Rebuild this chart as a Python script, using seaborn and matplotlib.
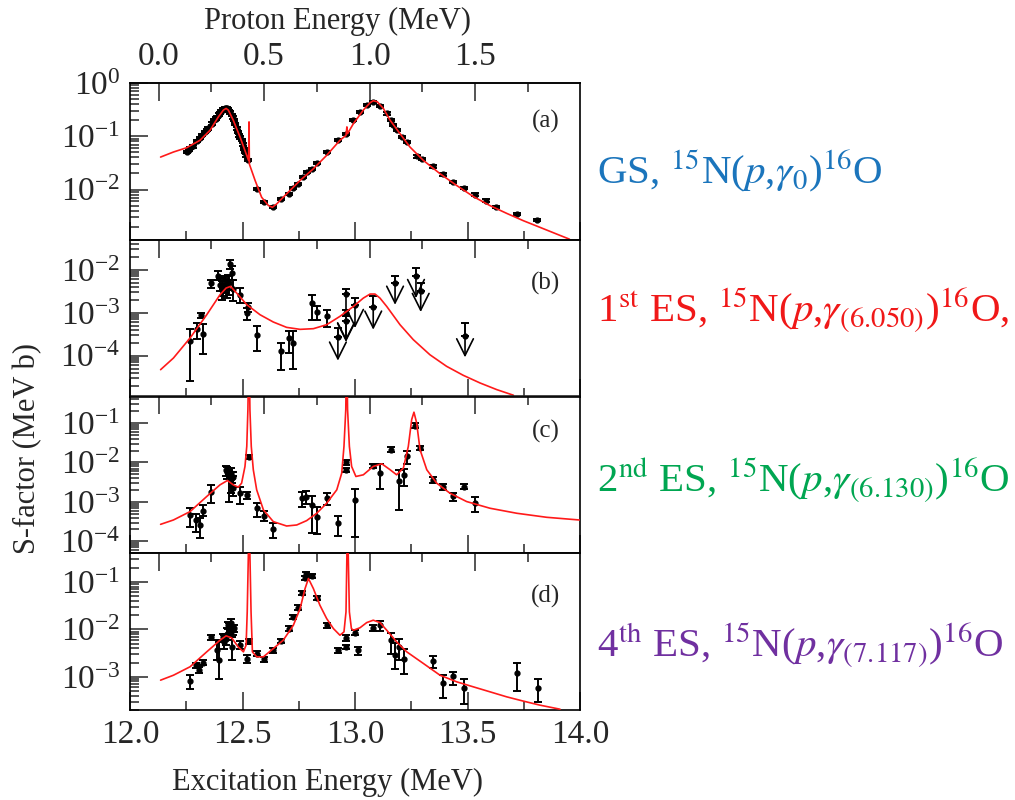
import numpy as np
import pandas as pd
import matplotlib
matplotlib.use('Agg')
import matplotlib.pyplot as plt
from matplotlib.ticker import MultipleLocator, LogLocator, NullFormatter
import seaborn as sns

sns.set_theme(style='ticks')
plt.rcParams['font.family'] = ['Liberation Serif', 'DejaVu Serif']
plt.rcParams['mathtext.fontset'] = 'stix'

# Q value of 15N(p,g)16O, used for the proton energy axis on top
Q_VALUE = 12.127

# ---- panel (a): ground state ----
a_ex = [12.252, 12.260, 12.267, 12.281, 12.296, 12.310, 12.319, 12.333, 12.340, 12.348,
        12.363, 12.373, 12.380, 12.388, 12.395, 12.400, 12.405, 12.412, 12.417, 12.422,
        12.427, 12.433, 12.437, 12.441, 12.446, 12.452, 12.457, 12.462, 12.468, 12.474,
        12.480, 12.486, 12.490, 12.496, 12.500, 12.507, 12.512, 12.516, 12.526, 12.566,
        12.596, 12.634, 12.670, 12.707, 12.726, 12.748, 12.767, 12.785, 12.807, 12.830,
        12.874, 12.926, 12.960, 12.993, 13.022, 13.052, 13.081, 13.111, 13.141, 13.159,
        13.170, 13.185, 13.207, 13.230, 13.274, 13.296, 13.345, 13.393, 13.437, 13.484,
        13.533, 13.581, 13.627, 13.719, 13.810]
a_s = [0.0506, 0.056, 0.061, 0.0647, 0.0817, 0.092, 0.1045, 0.121, 0.130, 0.140,
       0.173, 0.200, 0.215, 0.232, 0.255, 0.275, 0.295, 0.318, 0.330, 0.343,
       0.340, 0.333, 0.320, 0.300, 0.280, 0.249, 0.225, 0.200, 0.170, 0.140,
       0.120, 0.104, 0.095, 0.084, 0.070, 0.058, 0.050, 0.0438, 0.0363, 0.0103,
       0.00577, 0.00464, 0.00667, 0.00828, 0.0107, 0.0128, 0.0171, 0.0212, 0.0245, 0.0314,
       0.0506, 0.084, 0.112, 0.200, 0.288, 0.385, 0.445, 0.368, 0.268, 0.200,
       0.161, 0.130, 0.097, 0.078, 0.042, 0.038, 0.0272, 0.0192, 0.0137, 0.0107,
       0.00805, 0.0062, 0.00464, 0.00348, 0.00272]
a_fit_ex = [12.136, 12.193, 12.252, 12.311, 12.356, 12.393, 12.415, 12.427, 12.437, 12.459,
            12.489, 12.516, 12.527, 12.529, 12.5305, 12.556, 12.585, 12.615, 12.633, 12.652,
            12.696, 12.756, 12.815, 12.874, 12.933, 12.960, 12.964, 12.967, 12.993, 13.037,
            13.067, 13.081, 13.099, 13.126, 13.156, 13.200, 13.244, 13.304, 13.378, 13.452,
            13.526, 13.600, 13.674, 13.748, 13.822, 13.896, 13.953]
a_fit_s = [0.0407, 0.0506, 0.061, 0.084, 0.130, 0.232, 0.31, 0.333, 0.31, 0.200,
           0.097, 0.047, 0.0352, 0.186, 0.030, 0.0148, 0.00716, 0.00501, 0.00464, 0.00537,
           0.00828, 0.0148, 0.0245, 0.0438, 0.084, 0.104, 0.15, 0.112, 0.173, 0.31,
           0.426, 0.465, 0.445, 0.333, 0.200, 0.112, 0.063, 0.0352, 0.0198, 0.0119,
           0.00738, 0.00499, 0.00357, 0.0026, 0.00195, 0.00146, 0.00117]

# ---- panel (b): 1st excited state ----
b_ex = [12.267, 12.296, 12.314, 12.323, 12.361, 12.390, 12.400, 12.407, 12.415, 12.422,
        12.430, 12.437, 12.441, 12.446, 12.452, 12.459, 12.489, 12.519, 12.526, 12.566,
        12.670, 12.707, 12.726, 12.807, 12.830, 12.877, 12.960]
b_s = [2.23e-4, 4.25e-4, 8.67e-4, 3.19e-4, 4.9e-3, 7.25e-3, 4.48e-3, 3.43e-3, 4.09e-3, 4.48e-3,
       3.75e-3, 5.36e-3, 4.9e-3, 1.35e-2, 8.36e-3, 3.61e-3, 2.62e-3, 9.8e-4, 1.33e-3, 3.08e-4,
       1.26e-4, 2.58e-4, 1.97e-4, 1.68e-3, 1.04e-3, 8.22e-4, 9.8e-4]
b_lo = [2.62e-5, 2.48e-4, 7.5e-4, 1.09e-4, 3.75e-3, 5.65e-3, 3.13e-3, 2.0e-3, 2.4e-3, 2.86e-3,
        2.19e-3, 3.43e-3, 2.62e-3, 1.05e-2, 5.85e-3, 1.84e-3, 1.68e-3, 6.87e-4, 1.04e-3, 1.26e-4,
        4.56e-5, 1.15e-4, 4.9e-5, 6.87e-4, 6.87e-4, 4.56e-4, 8.5e-4]
b_hi = [4.17e-4, 5.75e-4, 9.8e-4, 5.45e-4, 5.85e-3, 9.15e-3, 6.4e-3, 5.36e-3, 6.4e-3, 7.0e-3,
        5.85e-3, 7.65e-3, 7.0e-3, 1.71e-2, 1.2e-2, 5.85e-3, 3.75e-3, 1.29e-3, 1.68e-3, 4.8e-4,
        1.97e-4, 3.81e-4, 3.68e-4, 2.62e-3, 1.4e-3, 1.17e-3, 1.13e-3]
# upper limits: point, top of error bar, end of the arrow
b_ul_ex = [12.924, 12.960, 12.960, 13.000, 13.081, 13.178, 13.271, 13.292, 13.489]
b_ul_s = [2.67e-4, 2.72e-3, 6.5e-4, 1.53e-3, 1.33e-3, 4.9e-3, 7.0e-3, 3.25e-3, 2.92e-4]
b_ul_hi = [4.4e-4, 3.55e-3, 8.2e-4, 2.19e-3, 2.4e-3, 7.0e-3, 1.09e-2, 4.9e-3, 5.75e-4]
b_ul_tip = [7.66e-5, 2.15e-4, 2.08e-4, 4.4e-4, 4.03e-4, 1.53e-3, 2.19e-3, 1.04e-3, 9.14e-5]
b_fit_ex = [12.136, 12.193, 12.267, 12.341, 12.400, 12.427, 12.447, 12.474, 12.519, 12.578,
            12.637, 12.696, 12.756, 12.815, 12.874, 12.933, 12.993, 13.037, 13.067, 13.089,
            13.111, 13.141, 13.200, 13.259, 13.333, 13.407, 13.481, 13.556, 13.630, 13.704]
b_fit_s = [4.72e-5, 8.8e-5, 2.58e-4, 8.97e-4, 2.62e-3, 3.75e-3, 4.1e-3, 2.87e-3, 1.54e-3, 8.97e-4,
           6.07e-4, 4.56e-4, 4.1e-4, 4.25e-4, 5.26e-4, 8.22e-4, 1.40e-3, 2.19e-3, 2.72e-3, 2.72e-3,
           2.19e-3, 1.40e-3, 5.26e-4, 2.36e-4, 1.05e-4, 5.65e-5, 3.49e-5, 2.31e-5, 1.62e-5, 1.2e-5]

# ---- panel (c): 2nd excited state ----
c_ex = [12.267, 12.293, 12.311, 12.323, 12.360, 12.427, 12.433, 12.441, 12.447, 12.452,
        12.456, 12.459, 12.489, 12.519, 12.529, 12.566, 12.596, 12.634, 12.766, 12.782,
        12.807, 12.830, 12.877, 12.924, 12.960, 12.960, 13.000, 13.081, 13.111, 13.159,
        13.196, 13.218, 13.233, 13.268, 13.289, 13.345, 13.393, 13.437, 13.484, 13.533]
c_s = [4.67e-4, 3.48e-4, 2.6e-4, 6.03e-4, 1.83e-3, 6.52e-3, 5.57e-3, 4.85e-3, 5.36e-3, 4.0e-3,
       2.22e-3, 4.24e-3, 1.66e-3, 1.51e-3, 1.37e-2, 6.9e-4, 4.41e-4, 2.06e-4, 1.24e-3, 1.32e-3,
       8.4e-4, 4.24e-4, 1.24e-3, 2.99e-4, 1.0e-2, 6.52e-3, 1.12e-3, 8.22e-3, 5.36e-3, 2.1e-2,
       3.29e-3, 4.85e-3, 1.42e-2, 8.55e-2, 2.31e-2, 3.62e-3, 2.45e-3, 1.37e-3, 2.45e-3, 9.6e-4]
c_lo = [2.27e-4, 1.76e-4, 1.24e-4, 4.41e-4, 9.6e-4, 4.58e-3, 3.77e-3, 1.02e-3, 1.66e-3, 2.98e-3,
        1.37e-3, 2.45e-3, 8.9e-4, 1.17e-3, 1.22e-2, 4.24e-4, 3.35e-4, 1.19e-4, 7.6e-4, 8.9e-4,
        1.66e-4, 1.53e-4, 8.4e-4, 1.37e-4, 8.73e-3, 5.79e-3, 1.32e-4, 7.17e-3, 2.1e-3, 1.8e-2,
        6.26e-4, 2.55e-3, 9.24e-3, 7.46e-2, 2.02e-2, 2.98e-3, 2.02e-3, 1.08e-3, 2.1e-3, 5.68e-4]
c_hi = [6.9e-4, 4.95e-4, 3.85e-4, 8.4e-4, 2.7e-3, 8.22e-3, 7.6e-3, 6.52e-3, 7.17e-3, 5.57e-3,
        4.4e-3, 5.57e-3, 2.45e-3, 1.83e-3, 1.57e-2, 9.25e-4, 6.03e-4, 2.87e-4, 1.73e-3, 1.94e-3,
        1.42e-3, 7.31e-4, 1.66e-3, 4.41e-4, 1.12e-2, 7.31e-3, 2.1e-3, 9.24e-3, 9.24e-3, 2.46e-2,
        6.52e-3, 6.78e-3, 1.9e-2, 9.8e-2, 2.65e-2, 4.24e-3, 2.87e-3, 1.66e-3, 2.87e-3, 1.32e-3]
c_fit_ex = [12.136, 12.193, 12.267, 12.341, 12.400, 12.433, 12.459, 12.481, 12.496, 12.511,
            12.519, 12.524, 12.529, 12.533, 12.539, 12.548, 12.563, 12.593, 12.637, 12.696,
            12.741, 12.785, 12.830, 12.874, 12.919, 12.941, 12.951, 12.959, 12.963, 12.967,
            12.975, 12.985, 13.004, 13.037, 13.081, 13.119, 13.156, 13.185, 13.215, 13.237,
            13.252, 13.262, 13.274, 13.289, 13.319, 13.363, 13.422, 13.496, 13.600, 13.719,
            13.852, 13.997]
c_fit_s = [2.7e-4, 3.48e-4, 5.68e-4, 1.37e-3, 2.7e-3, 3.48e-3, 2.7e-3, 2.36e-3, 2.98e-3, 7.9e-3,
           2.55e-2, 0.218, 10.0, 0.218, 2.55e-2, 6.52e-3, 2.02e-3, 6.26e-4, 3.16e-4, 2.45e-4,
           2.6e-4, 3.35e-4, 5.15e-4, 9.25e-4, 2.02e-3, 5.36e-3, 2.55e-2, 0.218, 10.0, 0.218,
           2.55e-2, 7.9e-3, 4.4e-3, 4.85e-3, 7.9e-3, 9.24e-3, 6.52e-3, 4.85e-3, 7.17e-3, 2.55e-2,
           0.122, 0.187, 0.1, 2.1e-2, 6.52e-3, 2.98e-3, 1.66e-3, 1.02e-3, 6.9e-4, 5.15e-4,
           4.07e-4, 3.48e-4]

# ---- panel (d): 4th excited state ----
d_ex = [12.267, 12.293, 12.308, 12.323, 12.360, 12.388, 12.397, 12.412, 12.418, 12.427,
        12.433, 12.437, 12.441, 12.447, 12.452, 12.456, 12.462, 12.489, 12.519, 12.529,
        12.566, 12.596, 12.634, 12.670, 12.707, 12.726, 12.748, 12.766, 12.778, 12.782,
        12.807, 12.830, 12.877, 12.924, 12.960, 12.960, 13.000, 13.013, 13.081, 13.111,
        13.159, 13.178, 13.196, 13.218, 13.345, 13.393, 13.437, 13.484, 13.719, 13.815]
d_s = [8.11e-4, 1.76e-3, 1.38e-3, 2.0e-3, 6.95e-3, 3.64e-3, 2.24e-3, 6.95e-3, 5.45e-3, 6.41e-3,
       8.17e-3, 1.22e-2, 1.08e-2, 1.39e-2, 4.28e-3, 9.6e-3, 1.08e-2, 4.65e-3, 2.43e-3, 5.64e-3,
       3.1e-3, 2.35e-3, 3.64e-3, 5.64e-3, 1.04e-2, 1.83e-2, 2.88e-2, 5.86e-2, 0.121, 0.150,
       0.134, 4.6e-2, 1.22e-2, 3.64e-3, 6.62e-3, 4.28e-3, 8.57e-3, 3.64e-3, 1.08e-2, 1.22e-2,
       5.91e-3, 2.95e-3, 4.28e-3, 2.43e-3, 2.14e-3, 7.24e-4, 1.05e-3, 5.86e-4, 1.23e-3, 5.86e-4]
d_lo = [5.5e-4, 1.55e-3, 1.23e-3, 1.76e-3, 5.91e-3, 2.24e-3, 9.2e-4, 5.91e-3, 3.94e-3, 4.65e-3,
        5.91e-3, 1.04e-2, 8.17e-3, 1.13e-2, 2.24e-3, 7.53e-3, 8.86e-3, 3.82e-3, 2.0e-3, 4.95e-3,
        2.72e-3, 2.07e-3, 3.25e-3, 5.04e-3, 9.3e-3, 1.64e-2, 2.58e-2, 5.24e-2, 0.110, 0.134,
        0.121, 4.18e-2, 1.09e-2, 3.25e-3, 5.82e-3, 3.82e-3, 7.53e-3, 2.95e-3, 9.45e-3, 9.45e-3,
        3.1e-3, 1.45e-3, 2.24e-3, 1.12e-3, 1.55e-3, 3.5e-4, 6.68e-4, 2.62e-4, 5.15e-4, 2.98e-4]
d_hi = [1.08e-3, 2.0e-3, 1.63e-3, 2.24e-3, 7.78e-3, 5.91e-3, 5.45e-3, 8.17e-3, 7.53e-3, 8.17e-3,
        1.08e-2, 1.44e-2, 1.33e-2, 1.64e-2, 6.95e-3, 1.22e-2, 1.26e-2, 5.64e-3, 2.86e-3, 6.41e-3,
        3.47e-3, 2.64e-3, 4.08e-3, 6.21e-3, 1.17e-2, 2.05e-2, 3.23e-2, 6.58e-2, 0.134, 0.163,
        0.147, 5.07e-2, 1.35e-2, 4.08e-3, 7.53e-3, 4.8e-3, 9.6e-3, 4.28e-3, 1.22e-2, 1.49e-2,
        8.57e-3, 5.28e-3, 6.41e-3, 3.94e-3, 2.77e-3, 1.08e-3, 1.27e-3, 8.93e-4, 2.0e-3, 8.93e-4]
d_fit_ex = [12.136, 12.193, 12.267, 12.341, 12.400, 12.427, 12.452, 12.481, 12.504, 12.516,
            12.521, 12.526, 12.529, 12.533, 12.538, 12.544, 12.563, 12.593, 12.637, 12.681,
            12.726, 12.756, 12.778, 12.793, 12.815, 12.844, 12.874, 12.904, 12.933, 12.951,
            12.960, 12.964, 12.967, 12.970, 12.975, 12.984, 12.993, 13.022, 13.052, 13.081,
            13.111, 13.141, 13.185, 13.230, 13.304, 13.378, 13.452, 13.526, 13.600, 13.674,
            13.748, 13.822, 13.911]
d_fit_s = [8.51e-4, 1.08e-3, 1.63e-3, 3.36e-3, 5.91e-3, 7.3e-3, 6.62e-3, 4.28e-3, 3.36e-3, 4.65e-3,
           2.34e-2, 0.364, 10.0, 0.364, 2.34e-2, 3.36e-3, 2.64e-3, 2.64e-3, 3.94e-3, 5.91e-3,
           1.22e-2, 2.75e-2, 7.24e-2, 0.118, 7.24e-2, 3.23e-2, 1.69e-2, 1.04e-2, 7.53e-3, 8.86e-3,
           2.34e-2, 0.364, 10.0, 0.364, 2.34e-2, 1.04e-2, 9.6e-3, 1.08e-2, 1.39e-2, 1.56e-2,
           1.39e-2, 9.6e-3, 5.45e-3, 3.36e-3, 1.91e-3, 1.08e-3, 7.85e-4, 6.15e-4, 4.83e-4, 3.79e-4,
           3.08e-4, 2.53e-4, 2.08e-4]

panel_tags = ['(a)', '(b)', '(c)', '(d)']
panel_ylims = [(1.14e-3, 1.0005), (1.12e-5, 5.0e-2), (5.0e-5, 0.467), (2.0e-4, 0.402)]
panel_tag_y = [0.756, 0.72, 0.776, 0.726]
reaction_labels = [r'GS, $^{15}$N($p$,$\gamma_0$)$^{16}$O',
                   r'1$^{\rm st}$ ES, $^{15}$N($p$,$\gamma_{(6.050)}$)$^{16}$O,',
                   r'2$^{\rm nd}$ ES, $^{15}$N($p$,$\gamma_{(6.130)}$)$^{16}$O',
                   r'4$^{\rm th}$ ES, $^{15}$N($p$,$\gamma_{(7.117)}$)$^{16}$O']
reaction_colors = ['#1B75BC', '#F01818', '#00A651', '#7030A0']
reaction_baseline_px = [183, 322, 492, 657]


def ex_to_ep(ex):
    return (ex - Q_VALUE) * 16.0 / 15.0


def ep_to_ex(ep):
    return ep * 15.0 / 16.0 + Q_VALUE


fits = [(a_fit_ex, a_fit_s), (b_fit_ex, b_fit_s), (c_fit_ex, c_fit_s), (d_fit_ex, d_fit_s)]
points = [
    (a_ex, a_s, [s * 0.95 for s in a_s], [s * 1.05 for s in a_s]),
    (b_ex, b_s, b_lo, b_hi),
    (c_ex, c_s, c_lo, c_hi),
    (d_ex, d_s, d_lo, d_hi),
]

fig, axes = plt.subplots(4, 1, sharex=True, figsize=(10.15, 8), dpi=100)
fig.subplots_adjust(left=130 / 1015, right=580 / 1015, top=1 - 83 / 800, bottom=1 - 710 / 800, hspace=0)

for i, ax in enumerate(axes):
    ax.set_yscale('log')

    # fitted curve
    fit_df = pd.DataFrame({'Ex': fits[i][0], 'S': fits[i][1]})
    sns.lineplot(data=fit_df, x='Ex', y='S', ax=ax, color='#FF1A1A', lw=1.2,
                 estimator=None, sort=False, zorder=4)

    # data with error bars
    ex, s, lo, hi = points[i]
    s = np.array(s)
    yerr = [s - np.array(lo), np.array(hi) - s]
    ax.errorbar(ex, s, yerr=yerr, fmt='o', ms=3.5, color='black', ecolor='black',
                elinewidth=1.4, capsize=2.6, capthick=1.4, zorder=3)

    ax.set_xlim(12.0, 14.0)
    ax.set_ylim(*panel_ylims[i])
    ax.set_xlabel('')
    ax.set_ylabel('')

    ax.xaxis.set_major_locator(MultipleLocator(0.5))
    ax.xaxis.set_minor_locator(MultipleLocator(0.25))
    ax.yaxis.set_major_locator(LogLocator(base=10, numticks=20))
    ax.yaxis.set_minor_locator(LogLocator(base=10, subs=np.arange(2, 10), numticks=20))
    ax.yaxis.set_minor_formatter(NullFormatter())
    ax.tick_params(which='major', direction='in', length=13, width=1.1, top=False, right=False,
                   labelsize=24, pad=7)
    ax.tick_params(which='minor', direction='in', length=6.5, width=1.1, top=False, right=False)
    for sp in ax.spines.values():
        sp.set_linewidth(1.2)
        sp.set_color('black')

    # proton energy ticks along the top of every panel
    sec = ax.secondary_xaxis('top', functions=(ex_to_ep, ep_to_ex))
    sec.xaxis.set_major_locator(MultipleLocator(0.5))
    sec.xaxis.set_minor_locator(MultipleLocator(0.25))
    sec.tick_params(which='major', direction='in', length=13, width=1.1, labelsize=24, pad=8,
                    labeltop=(i == 0))
    sec.tick_params(which='minor', direction='in', length=6.5, width=1.1)
    sec.spines['top'].set_linewidth(1.2)

    ax.text(0.924, panel_tag_y[i], panel_tags[i], transform=ax.transAxes,
            ha='center', va='center', fontsize=18)

    fig.text(597 / 1015, 1 - reaction_baseline_px[i] / 800, reaction_labels[i],
             color=reaction_colors[i], fontsize=29.5, ha='left', va='baseline')

# upper limits in panel (b)
ax_b = axes[1]
ul_s = np.array(b_ul_s)
ax_b.errorbar(b_ul_ex, ul_s, yerr=[np.zeros_like(ul_s), np.array(b_ul_hi) - ul_s], fmt='o',
              ms=3.5, color='black', elinewidth=1.4, capsize=2.6, capthick=1.4, zorder=3)
for x, y0, tip in zip(b_ul_ex, b_ul_s, b_ul_tip):
    ax_b.annotate('', xy=(x, tip), xytext=(x, y0),
                  arrowprops=dict(arrowstyle='->,head_length=0.6,head_width=0.3',
                                  mutation_scale=20, color='black', lw=1.2,
                                  shrinkA=0, shrinkB=0))

fig.text(338 / 1015, 1 - 21 / 800, 'Proton Energy (MeV)', ha='center', va='center', fontsize=22)
fig.text(328 / 1015, 1 - 782 / 800, 'Excitation Energy (MeV)', ha='center', va='center', fontsize=22)
fig.text(28 / 1015, 1 - 449 / 800, 'S-factor (MeV b)', rotation=90, ha='center', va='center',
         fontsize=22)

plt.savefig('out.png', dpi=100)
